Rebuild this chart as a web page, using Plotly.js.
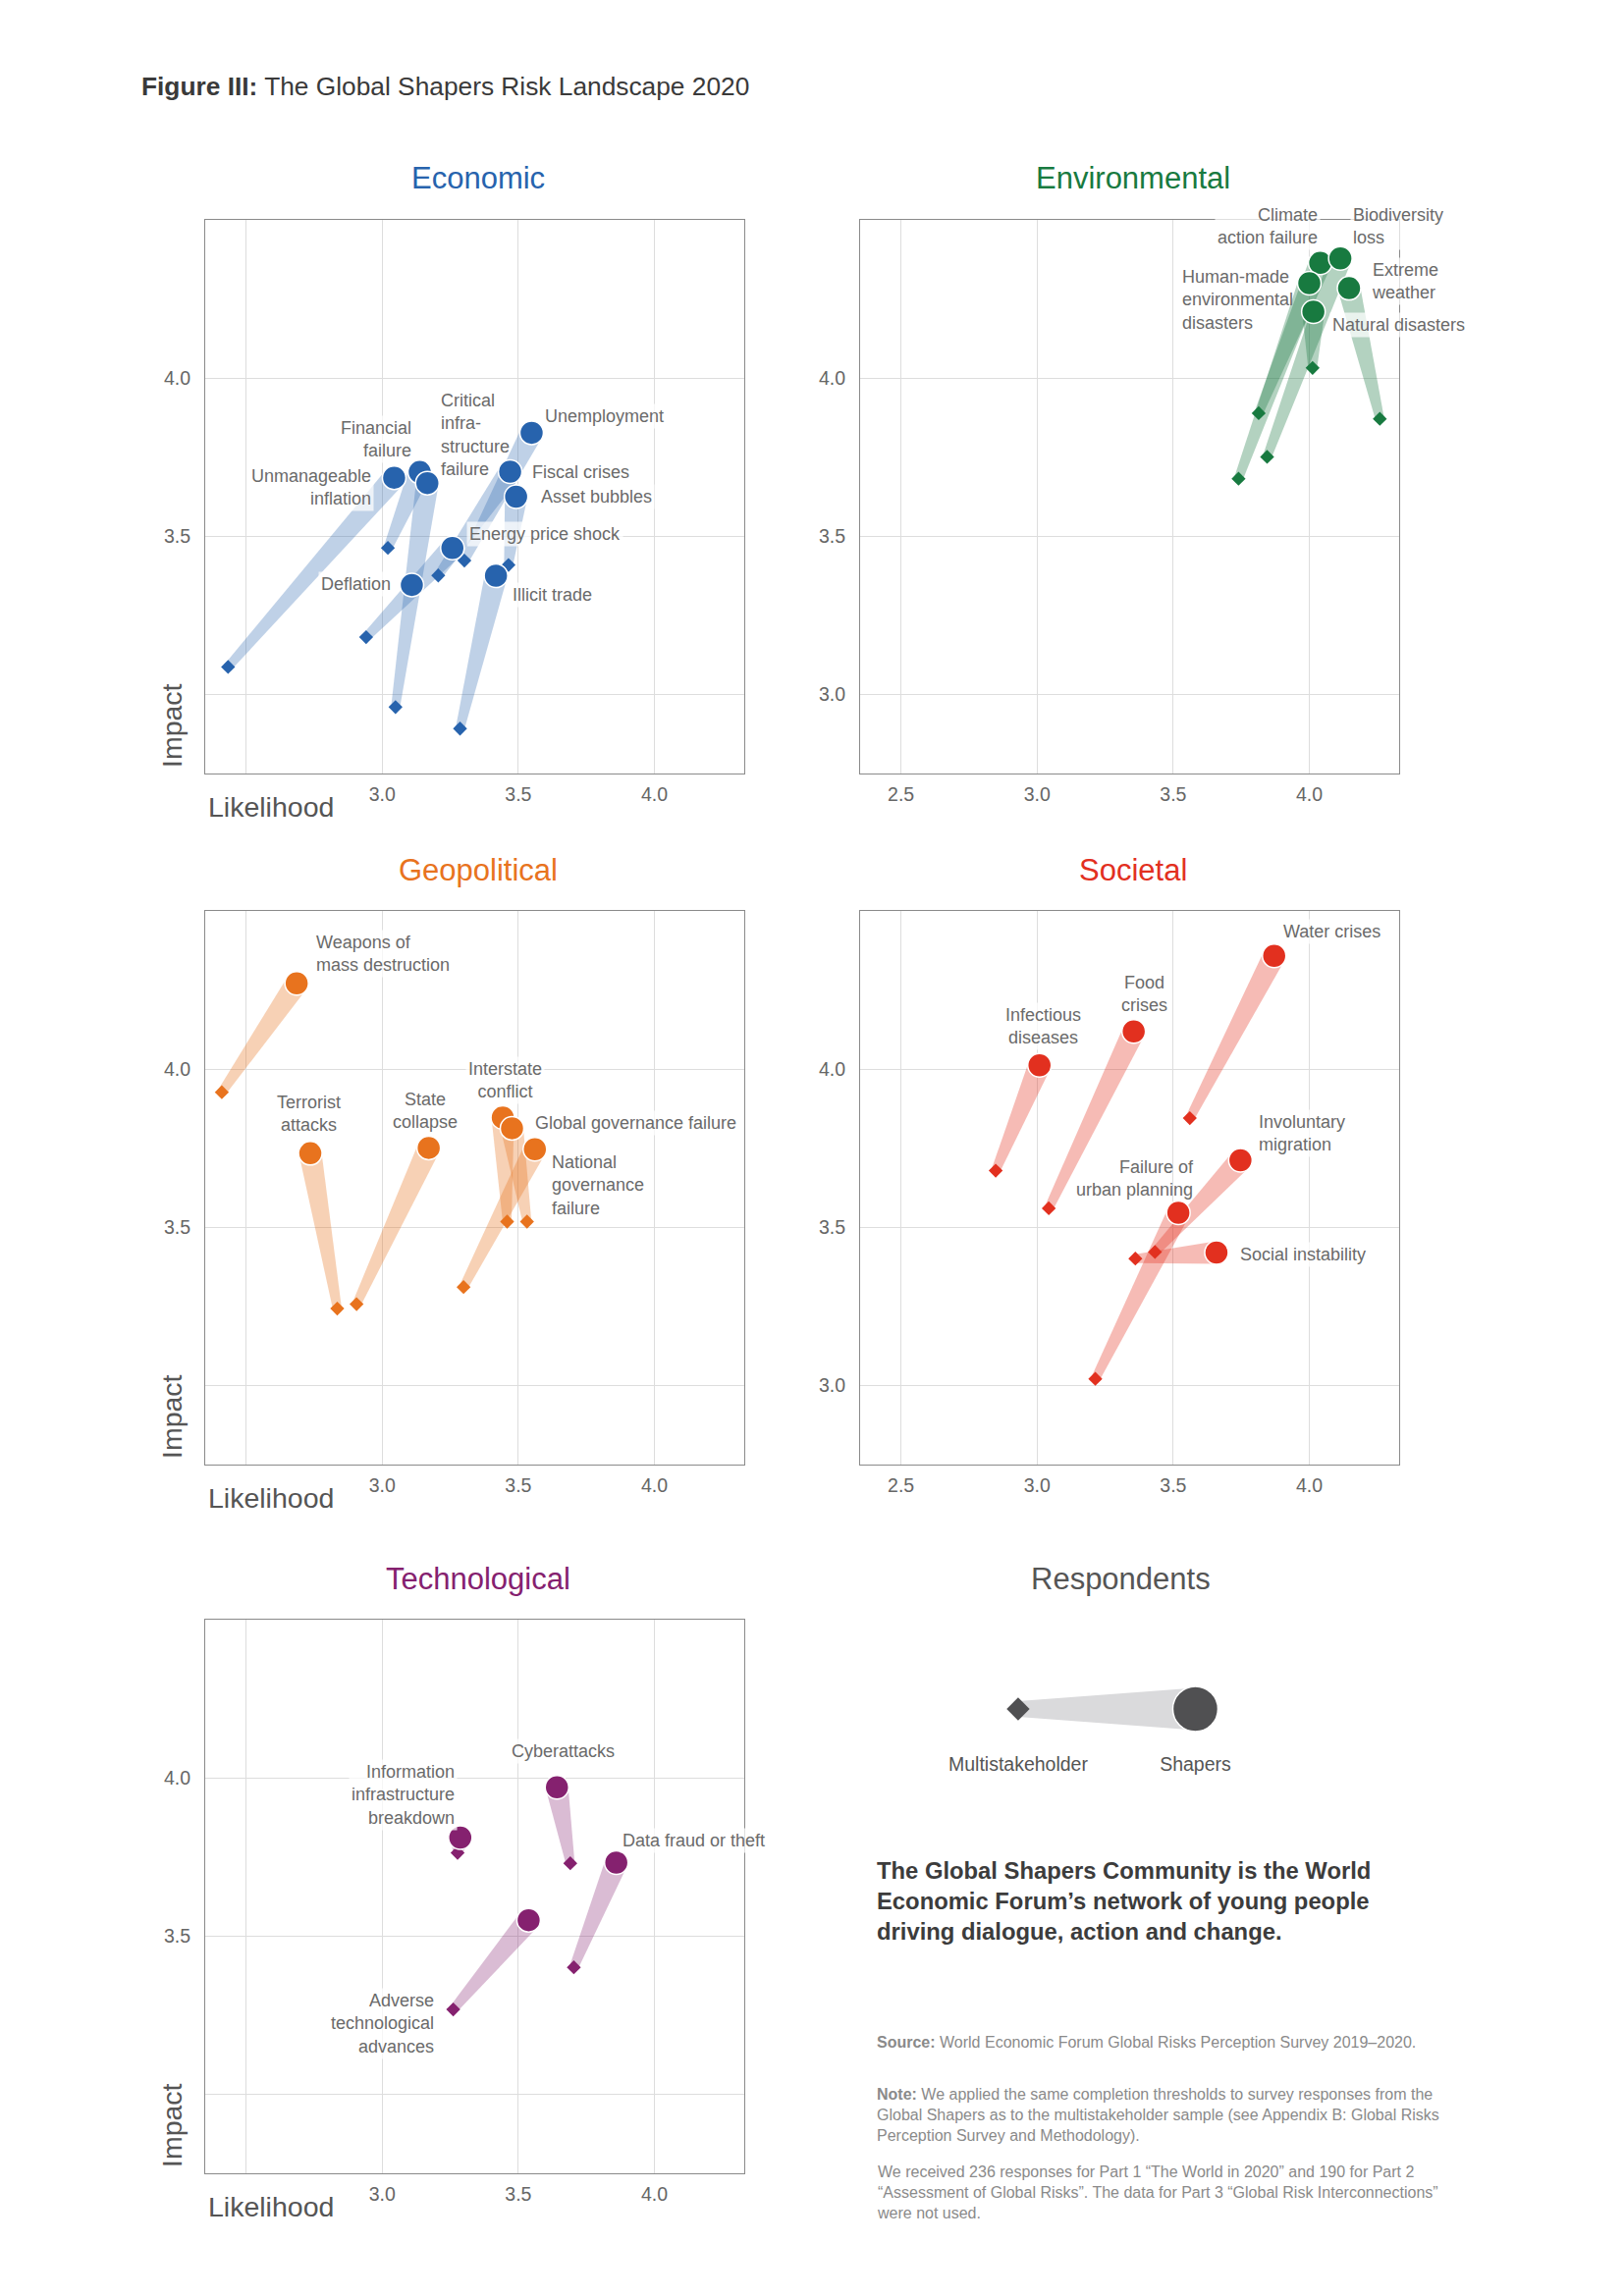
<!DOCTYPE html>
<html>
<head>
<meta charset="utf-8">
<script src="https://cdn.plot.ly/plotly-3.0.1.min.js"></script>
<style>html,body{margin:0;padding:0;background:#fff}</style>
</head>
<body>
<div id="chart" style="width:1654px;height:2339px"></div>
<script>
// ===================== DATA =====================
const econRisks = ['Unemployment','Fiscal crises','Asset bubbles','Energy price shock','Illicit trade','Deflation','Unmanageable inflation','Financial failure','Critical infrastructure failure'];
const econLabels = ['Unemployment','Fiscal crises','Asset bubbles','Energy price shock','Illicit trade','Deflation','Unmanageable<br>inflation','Financial<br>failure','Critical<br>infra-<br>structure<br>failure'];
const econShapersLik = [3.549, 3.470, 3.492, 3.258, 3.418, 3.109, 3.044, 3.138, 3.166];
const econShapersImp = [3.827, 3.704, 3.625, 3.463, 3.375, 3.346, 3.685, 3.703, 3.668];
const econMultiLik   = [3.302, 3.206, 3.464, 2.941, 3.286, 3.100, 2.434, 3.021, 3.049];
const econMultiImp   = [3.423, 3.376, 3.409, 3.181, 2.892, 3.330, 3.087, 3.463, 2.960];

const envRisks = ['Climate action failure','Biodiversity loss','Human-made environmental disasters','Extreme weather','Natural disasters'];
const envLabels = ['Climate<br>action failure','Biodiversity<br>loss','Human-made<br>environmental<br>disasters','Extreme<br>weather','Natural disasters'];
const envShapersLik = [4.040, 4.114, 4.000, 4.146, 4.015];
const envShapersImp = [4.364, 4.378, 4.300, 4.284, 4.210];
const envMultiLik   = [3.814, 3.845, 3.740, 4.259, 4.012];
const envMultiImp   = [3.889, 3.751, 3.682, 3.871, 4.032];

const geoRisks = ['Weapons of mass destruction','Terrorist attacks','State collapse','Interstate conflict','Global governance failure','National governance failure'];
const geoLabels = ['Weapons of<br>mass destruction','Terrorist<br>attacks','State<br>collapse','Interstate<br>conflict','Global governance failure','National<br>governance<br>failure'];
const geoShapersLik = [2.686, 2.736, 3.171, 3.443, 3.477, 3.561];
const geoShapersImp = [4.271, 3.734, 3.751, 3.847, 3.813, 3.747];
const geoMultiLik   = [2.411, 2.835, 2.906, 3.459, 3.532, 3.299];
const geoMultiImp   = [3.927, 3.243, 3.257, 3.518, 3.518, 3.311];

const socRisks = ['Water crises','Food crises','Infectious diseases','Involuntary migration','Failure of urban planning','Social instability'];
const socLabels = ['Water crises','Food<br>crises','Infectious<br>diseases','Involuntary<br>migration','Failure of<br>urban planning','Social instability'];
const socShapersLik = [3.871, 3.355, 3.009, 3.747, 3.519, 3.659];
const socShapersImp = [4.358, 4.119, 4.012, 3.712, 3.546, 3.420];
const socMultiLik   = [3.561, 3.043, 2.848, 3.433, 3.214, 3.361];
const socMultiImp   = [3.845, 3.560, 3.679, 3.422, 3.021, 3.401];

const techRisks = ['Cyberattacks','Information infrastructure breakdown','Data fraud or theft','Adverse technological advances'];
const techLabels = ['Cyberattacks','Information<br>infrastructure<br>breakdown','Data fraud or theft','Adverse<br>technological<br>advances'];
const techShapersLik = [3.642, 3.287, 3.860, 3.538];
const techShapersImp = [3.970, 3.811, 3.732, 3.550];
const techMultiLik   = [3.691, 3.277, 3.704, 3.261];
const techMultiImp   = [3.730, 3.763, 3.401, 3.268];

const xTickVals = [2.5, 3.0, 3.5, 4.0];
const xTickTextAll = ['2.5', '3.0', '3.5', '4.0'];
const xTickTextCut = ['', '3.0', '3.5', '4.0'];
const yTickVals = [3.0, 3.5, 4.0];
const yTickTextAll = ['3.0', '3.5', '4.0'];
const yTickTextCut = ['', '3.5', '4.0'];

const legendGroups = ['Multistakeholder', 'Shapers'];
const legendLevel = [0, 0];

// ===================== LAYOUT CONSTANTS =====================
const W = 1654, H = 2339;
const FONT = 'Liberation Sans, Arial, Helvetica, sans-serif';
const X_RANGE = [2.35, 4.33], Y_RANGE = [2.75, 4.5];
const colL = [209, 758], colR = [876, 1425];
const rowTop = [224, 928, 1650], PANEL_H = 564;
const LABEL_BG = 'rgba(255,255,255,0.72)';

// label placements (x, y in data units; anchor; align; bg)
const econPlace = [
  {x:3.586,y:3.880,a:'left'},{x:3.539,y:3.704,a:'left'},{x:3.571,y:3.625,a:'left'},
  {x:3.311,y:3.508,a:'left'},{x:3.468,y:3.314,a:'left'},{x:3.044,y:3.350,a:'right'},
  {x:2.971,y:3.654,a:'right'},{x:3.118,y:3.805,a:'right'},{x:3.205,y:3.820,a:'left',nobg:true}];
const envPlace = [
  {x:4.040,y:4.480,a:'right'},{x:4.149,y:4.480,a:'left'},{x:3.522,y:4.246,a:'left',nobg:true},
  {x:4.218,y:4.306,a:'left'},{x:4.075,y:4.169,a:'left'}];
const geoPlace = [
  {x:2.747,y:4.365,a:'left'},{x:2.730,y:3.858,a:'center'},{x:3.158,y:3.868,a:'center'},
  {x:3.451,y:3.965,a:'center'},{x:3.552,y:3.830,a:'left'},{x:3.614,y:3.633,a:'left'}];
const socPlace = [
  {x:3.894,y:4.434,a:'left'},{x:3.395,y:4.239,a:'center'},{x:3.022,y:4.136,a:'center'},
  {x:3.805,y:3.797,a:'left'},{x:3.588,y:3.653,a:'right',nobg:true},{x:3.734,y:3.415,a:'left'}];
const techPlace = [
  {x:3.663,y:4.084,a:'center'},{x:3.278,y:3.947,a:'right'},{x:3.873,y:3.803,a:'left'},
  {x:3.200,y:3.224,a:'right'}];

const panels = [
  {title:'Economic', color:'#2763ad', band:'rgba(42,102,177,0.30)', col:colL, row:0, axes:true,
   labels:econLabels, sx:econShapersLik, sy:econShapersImp, mx:econMultiLik, my:econMultiImp, place:econPlace},
  {title:'Environmental', color:'#187a40', band:'rgba(25,119,63,0.33)', col:colR, row:0, axes:false,
   labels:envLabels, sx:envShapersLik, sy:envShapersImp, mx:envMultiLik, my:envMultiImp, place:envPlace},
  {title:'Geopolitical', color:'#e8731e', band:'rgba(232,115,31,0.33)', col:colL, row:1, axes:true,
   labels:geoLabels, sx:geoShapersLik, sy:geoShapersImp, mx:geoMultiLik, my:geoMultiImp, place:geoPlace},
  {title:'Societal', color:'#e2301f', band:'rgba(227,48,31,0.33)', col:colR, row:1, axes:false,
   labels:socLabels, sx:socShapersLik, sy:socShapersImp, mx:socMultiLik, my:socMultiImp, place:socPlace},
  {title:'Technological', color:'#85216f', band:'rgba(133,32,111,0.30)', col:colL, row:2, axes:true,
   labels:techLabels, sx:techShapersLik, sy:techShapersImp, mx:techMultiLik, my:techMultiImp, place:techPlace}
];

const CIRCLE = 24, DIAMOND = 11, W0 = 4.5, W1 = 11.5;

function bandPolygon(x0, y0, x1, y1, w0, w1, kx, ky) {
  const X0 = x0 * kx, Y0 = y0 * ky, X1 = x1 * kx, Y1 = y1 * ky;
  const dx = X1 - X0, dy = Y1 - Y0, L = Math.hypot(dx, dy) || 1;
  const nx = -dy / L, ny = dx / L;
  const xs = [X0 + nx*w0, X1 + nx*w1, X1 - nx*w1, X0 - nx*w0, X0 + nx*w0].map(v => v / kx);
  const ys = [Y0 + ny*w0, Y1 + ny*w1, Y1 - ny*w1, Y0 - ny*w0, Y0 + ny*w0].map(v => v / ky);
  return {xs, ys};
}

const traces = [];
const layout = {
  width: W, height: H, margin: {l:0, r:0, t:0, b:0},
  paper_bgcolor: '#fff', plot_bgcolor: '#fff', showlegend: false,
  font: {family: FONT, color: '#555'}, hovermode: false,
  annotations: []
};

const fx = px => px / W;
const fy = py => 1 - py / H;

panels.forEach((p, i) => {
  const n = i + 1;
  const xa = 'x' + n, ya = 'y' + n;
  const top = rowTop[p.row], bottom = top + PANEL_H;
  const pw = p.col[1] - p.col[0];
  const kx = pw / (X_RANGE[1] - X_RANGE[0]);
  const ky = PANEL_H / (Y_RANGE[1] - Y_RANGE[0]);
  layout['xaxis' + n] = {
    domain: [fx(p.col[0]), fx(p.col[1])], anchor: ya, range: X_RANGE,
    tickvals: xTickVals, ticktext: p.axes ? xTickTextCut : xTickTextAll,
    showgrid: true, gridcolor: '#dddddd', gridwidth: 1, zeroline: false,
    showline: true, mirror: true, linecolor: '#8a8a8a', linewidth: 1,
    ticks: 'outside', ticklen: 4, tickcolor: 'rgba(0,0,0,0)',
    tickfont: {size: 19.5, color: '#666', family: FONT}, fixedrange: true
  };
  layout['yaxis' + n] = {
    domain: [fy(bottom), fy(top)], anchor: xa, range: Y_RANGE,
    tickvals: yTickVals, ticktext: p.axes ? yTickTextCut : yTickTextAll,
    showgrid: true, gridcolor: '#dddddd', gridwidth: 1, zeroline: false,
    showline: true, mirror: true, linecolor: '#8a8a8a', linewidth: 1,
    ticks: 'outside', ticklen: 10, tickcolor: 'rgba(0,0,0,0)',
    tickfont: {size: 19.5, color: '#666', family: FONT}, fixedrange: true
  };
  // bands
  p.sx.forEach((_, j) => {
    const poly = bandPolygon(p.mx[j], p.my[j], p.sx[j], p.sy[j], W0, W1, kx, ky);
    traces.push({type:'scatter', mode:'lines', x: poly.xs, y: poly.ys, xaxis: xa, yaxis: ya,
      fill:'toself', fillcolor: p.band, line:{width:0}, hoverinfo:'skip'});
  });
  // multistakeholder diamonds
  traces.push({type:'scatter', mode:'markers', x: p.mx, y: p.my, xaxis: xa, yaxis: ya,
    marker:{symbol:'diamond', size: DIAMOND, color: p.color, line:{width:0}}});
  // shapers circles
  traces.push({type:'scatter', mode:'markers', x: p.sx, y: p.sy, xaxis: xa, yaxis: ya,
    marker:{symbol:'circle', size: CIRCLE, color: p.color, line:{width:1.5, color:'#ffffff'}}});
  // point labels
  p.labels.forEach((t, j) => {
    const pl = p.place[j];
    layout.annotations.push({xref: xa, yref: ya, x: pl.x, y: pl.y, text: t, showarrow: false,
      xanchor: pl.a, yanchor: 'middle', align: pl.a,
      font: {size: 18, color: '#6a6a6a', family: FONT},
      bgcolor: pl.nobg ? 'rgba(0,0,0,0)' : LABEL_BG, borderpad: 2});
  });
  // panel title
  layout.annotations.push({xref:'paper', yref:'paper', x: fx((p.col[0]+p.col[1])/2 + 3), y: fy(top - 42),
    text: p.title, showarrow:false, xanchor:'center', yanchor:'middle',
    font:{size: 31, color: p.color, family: FONT}});
  if (p.axes) {
    layout.annotations.push({xref:'paper', yref:'paper', x: fx(p.col[0] - 34), y: fy(bottom - 49),
      text:'Impact', textangle:-90, showarrow:false, xanchor:'center', yanchor:'middle',
      font:{size: 28.5, color:'#555', family: FONT}});
    layout.annotations.push({xref:'paper', yref:'paper', x: fx(p.col[0] + 1), y: fy(bottom + 34),
      text:'Likelihood', showarrow:false, xanchor:'left', yanchor:'middle',
      font:{size: 28.5, color:'#555', family: FONT}});
  }
});

// ===================== RESPONDENTS LEGEND =====================
const legTop = 1698.5, legBottom = 1783.5, legL = 946.7, legR = 1307.7;
const legKy = (legBottom - legTop) / 2;
layout.xaxis6 = {domain:[fx(legL), fx(legR)], anchor:'y6', type:'category', categoryarray: legendGroups,
  range:[-0.5, 1.5], showgrid:false, zeroline:false, showline:false, ticks:'',
  tickfont:{size: 19.5, color:'#555', family: FONT}, fixedrange:true};
layout.yaxis6 = {domain:[fy(legBottom), fy(legTop)], anchor:'x6', range:[-1, 1], visible:false, fixedrange:true};
const lw0 = 8 / legKy, lw1 = 21.5 / legKy;
traces.push({type:'scatter', mode:'lines', xaxis:'x6', yaxis:'y6',
  x:[legendGroups[0], legendGroups[1], legendGroups[1], legendGroups[0], legendGroups[0]],
  y:[legendLevel[0] + lw0, legendLevel[1] + lw1, legendLevel[1] - lw1, legendLevel[0] - lw0, legendLevel[0] + lw0],
  fill:'toself', fillcolor:'#dadadc', line:{width:0}});
traces.push({type:'scatter', mode:'markers', xaxis:'x6', yaxis:'y6', x:[legendGroups[0]], y:[legendLevel[0]],
  marker:{symbol:'diamond', size:18, color:'#505052'}});
traces.push({type:'scatter', mode:'markers', xaxis:'x6', yaxis:'y6', x:[legendGroups[1]], y:[legendLevel[1]],
  marker:{symbol:'circle', size:46, color:'#505052', line:{width:1.5, color:'#fff'}}});
layout.annotations.push({xref:'paper', yref:'paper', x: fx(1141), y: fy(1608), text:'Respondents',
  showarrow:false, xanchor:'center', yanchor:'middle', font:{size:31, color:'#555', family: FONT}});

// ===================== TEXTS =====================
const TX = 891;
layout.annotations.push({xref:'paper', yref:'paper', x: fx(141.7), y: fy(88), xanchor:'left', yanchor:'middle',
  showarrow:false, text:'<b>Figure III:</b> The Global Shapers Risk Landscape 2020',
  font:{size: 26.3, color:'#3a3a3a', family: FONT}});
layout.annotations.push({xref:'paper', yref:'paper', x: fx(TX), y: fy(1890), xanchor:'left', yanchor:'top',
  align:'left', showarrow:false,
  text:'<b>The Global Shapers Community is the World<br>Economic Forum’s network of young people<br>driving dialogue, action and change.</b>',
  font:{size: 23.8, color:'#3c3c3c', family: FONT}});
layout.annotations.push({xref:'paper', yref:'paper', x: fx(TX), y: fy(2080), xanchor:'left', yanchor:'middle',
  align:'left', showarrow:false,
  text:'<b>Source:</b> World Economic Forum Global Risks Perception Survey 2019–2020.',
  font:{size: 16, color:'#8a8a8a', family: FONT}});
layout.annotations.push({xref:'paper', yref:'paper', x: fx(TX), y: fy(2123), xanchor:'left', yanchor:'top',
  align:'left', showarrow:false,
  text:'<b>Note:</b> We applied the same completion thresholds to survey responses from the<br>Global Shapers as to the multistakeholder sample (see Appendix B: Global Risks<br>Perception Survey and Methodology).',
  font:{size: 16, color:'#8a8a8a', family: FONT}});
layout.annotations.push({xref:'paper', yref:'paper', x: fx(TX), y: fy(2202), xanchor:'left', yanchor:'top',
  align:'left', showarrow:false,
  text:'We received 236 responses for Part 1 “The World in 2020” and 190 for Part 2<br>“Assessment of Global Risks”. The data for Part 3 “Global Risk Interconnections”<br>were not used.',
  font:{size: 16, color:'#8a8a8a', family: FONT}});

Plotly.newPlot('chart', traces, layout, {staticPlot: true, displayModeBar: false});
</script>
</body>
</html>
